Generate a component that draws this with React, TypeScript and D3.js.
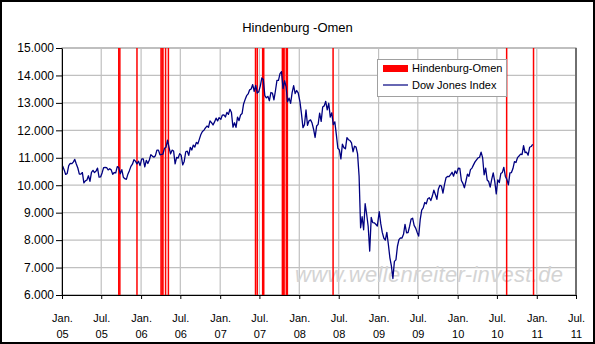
import React, { useEffect, useRef } from 'react';
import * as d3 from 'd3';

// Dow Jones weekly closes (one value per week)
const dj2005 = [10700, 10558, 10393, 10428, 10716, 10796, 10785, 10841, 10940, 10774, 10627, 10405,
    10404, 10461, 10087, 10157, 10192, 10345, 10140, 10471, 10542, 10461, 10513, 10623, 10297,
    10303, 10449, 10641, 10651, 10640, 10558, 10600, 10559, 10397, 10463, 10447, 10678, 10641, 10419,
    10569, 10292, 10238, 10215, 10402, 10531, 10686, 10766, 10931, 10877, 10778, 10875, 10717];
const dj2006 = [10959, 10959, 10667, 10907, 10793, 10919, 11115, 11061, 11021, 11076, 11279, 11280, 11109,
    11120, 11137, 11347, 11382, 11640, 11380, 11144, 11278, 11247, 10780, 11015, 10989, 11150,
    11091, 10739, 10868, 11219, 11240, 11088, 11381, 11284, 11464, 11392, 11560, 11508, 11679,
    11851, 11960, 12002, 12090, 12156, 12108, 12342, 12280, 12194, 12307, 12445, 12343, 12463];
const dj2007 = [12398, 12556, 12565, 12487, 12653, 12580, 12767, 12647, 12114, 12276, 12110, 12481, 12354,
    12560, 12612, 12961, 13120, 13264, 13327, 13476, 13507, 13668, 13424, 13639, 13360, 13408,
    13611, 13907, 13851, 13265, 13182, 13239, 13079, 13378, 13358, 13113, 13442, 13820, 13820,
    14066, 14140, 13522, 13806, 13595, 13042, 13176, 12981, 13372, 13625, 13339, 13450, 13365];
const dj2008 = [13044, 12606, 12099, 12207, 12743, 12182, 12348, 12381, 12266, 12040, 11740, 12156, 12216,
    12626, 12325, 12849, 12891, 13058, 12745, 12986, 12480, 12638, 12209, 12307, 11843, 11347,
    11288, 10962, 11497, 11370, 11326, 11734, 11659, 11628, 11544, 11220, 11422, 11388, 11143,
    10325, 8451, 8852, 8378, 9325, 8943, 8497, 7600, 8829, 8635, 8629, 8579, 8515];
const dj2009 = [9034, 8599, 8281, 8077, 8000, 8280, 7850, 7366, 7062, 6600, 7224, 7279, 7776,
    8017, 8083, 8076, 8212, 8575, 8268, 8277, 8500, 8764, 8799, 8539, 8438,
    8281, 8147, 8743, 9093, 9172, 9370, 9321, 9505, 9544, 9441, 9605, 9820, 9665,
    9487, 9864, 9995, 9972, 9712, 10023, 10270, 10318, 10310, 10388, 10471, 10329, 10520, 10428];
const dj2010 = [10618, 10609, 10173, 10067, 9908, 10144, 10402, 10325, 10567, 10624, 10742, 10850,
    10927, 10997, 11019, 11204, 11008, 10380, 10620, 10193, 10136, 9931, 10211, 10450, 10143,
    9686, 10198, 10097, 10424, 10466, 10653, 10320, 10213, 10010, 10447, 10462, 10607, 10860,
    10829, 11006, 11062, 11133, 11118, 11444, 11192, 11204, 11092, 11382, 11410, 11491];

const djYears: [number, number[]][] = [
    [2005, dj2005], [2006, dj2006], [2007, dj2007], [2008, dj2008], [2009, dj2009], [2010, dj2010],
];

// Hindenburg-Omen signal days
const omenDates = [
    '2005-09-20', '2005-09-25', '2005-12-13',
    '2006-04-03', '2006-04-08', '2006-04-12', '2006-04-24', '2006-05-07',
    '2007-06-13', '2007-06-21', '2007-07-16', '2007-07-21',
    '2007-10-15', '2007-10-19', '2007-10-23', '2007-11-02', '2007-11-07',
    '2008-06-05', '2010-08-15', '2010-12-17',
];

const yTicks = [6000, 7000, 8000, 9000, 10000, 11000, 12000, 13000, 14000, 15000];
const monthNames = ['Jan.', 'Jul.'];

const font = '"Liberation Sans", Arial, sans-serif';

const App = () => {
    const ref = useRef<SVGSVGElement>(null);

    useEffect(() => {
        const svg = d3.select(ref.current);
        const margin = { left: 62, right: 576, top: 48, bottom: 295 };

        const x = d3.scaleTime()
            .domain([new Date(2005, 0, 1), new Date(2011, 6, 1)])
            .range([margin.left, margin.right]);
        const y = d3.scaleLinear()
            .domain([6000, 15000])
            .range([margin.bottom, margin.top]);

        const xTicks = d3.timeMonth.every(6)!.range(new Date(2005, 0, 1), new Date(2011, 6, 2));
        const fmt = d3.formatLocale({ decimal: ',', thousands: '.', grouping: [3], currency: ['', ''] }).format(',');

        const data = djYears.flatMap(([yr, vals]) =>
            vals.map((v, i) => ({ date: d3.timeDay.offset(new Date(yr, 0, 1), 3 + 7 * i), value: v })));

        // grid
        const grid = svg.select('.grid');
        grid.selectAll('.hg').data(yTicks).join('line')
            .attr('class', 'hg')
            .attr('x1', margin.left).attr('x2', margin.right)
            .attr('y1', (d) => y(d)).attr('y2', (d) => y(d))
            .attr('stroke', '#c0c0c0').attr('stroke-width', 1.2);
        grid.selectAll('.vg').data(xTicks).join('line')
            .attr('class', 'vg')
            .attr('x1', (d) => x(d)).attr('x2', (d) => x(d))
            .attr('y1', margin.top).attr('y2', margin.bottom)
            .attr('stroke', '#c0c0c0').attr('stroke-width', 1.2);

        // omen bars
        svg.select('.omen').selectAll('line').data(omenDates).join('line')
            .attr('x1', (d) => x(d3.timeParse('%Y-%m-%d')(d)!))
            .attr('x2', (d) => x(d3.timeParse('%Y-%m-%d')(d)!))
            .attr('y1', y(15000)).attr('y2', y(6000))
            .attr('stroke', '#ff0000').attr('stroke-width', 1.5);

        // dow jones line
        const line = d3.line<{ date: Date; value: number }>()
            .x((d) => x(d.date))
            .y((d) => y(d.value));
        svg.select('.dj').selectAll('path').data([data]).join('path')
            .attr('d', line)
            .attr('fill', 'none')
            .attr('stroke', '#000080')
            .attr('stroke-width', 1.3)
            .attr('stroke-linejoin', 'round');

        // y axis
        const yAxis = svg.select('.y-axis')
            .attr('transform', `translate(${margin.left},0)`)
            .call(d3.axisLeft(y).tickValues(yTicks).tickFormat((d) => fmt(d as number)).tickSize(6).tickSizeOuter(0) as any);
        yAxis.select('.domain').attr('stroke', '#000');
        yAxis.selectAll('text')
            .attr('font-family', font).attr('font-size', 12).attr('fill', '#000')
            .attr('x', -8);

        // x axis
        const xAxis = svg.select('.x-axis')
            .attr('transform', `translate(0,${margin.bottom})`)
            .call(d3.axisBottom(x).tickValues(xTicks).tickFormat(() => '').tickSize(4).tickSizeOuter(0) as any);
        xAxis.select('.domain').attr('stroke', '#000');
        xAxis.selectAll('.tick').each(function (d: any) {
            const t = d3.select(this).select('text');
            t.attr('font-family', font).attr('font-size', 11).attr('fill', '#000').attr('y', 0).attr('dy', null);
            t.selectAll('tspan').data([monthNames[d.getMonth() === 0 ? 0 : 1], d3.timeFormat('%y')(d)]).join('tspan')
                .attr('x', 0)
                .attr('y', (_, i) => (i === 0 ? 27 : 43))
                .text((s) => s);
        });
    }, []);

    return (
        <svg ref={ref} width={595} height={344}
            style={{ position: 'absolute', left: 0, top: 0, background: '#fff' }}>
            <rect x={1} y={1} width={593} height={342} fill="#fff" stroke="#000" strokeWidth={2} />
            <text x={297.5} y={32} textAnchor="middle" fontFamily={font} fontSize={13}>Hindenburg -Omen</text>
            <rect x={62} y={48} width={514} height={247} fill="#fff" stroke="#808080" />
            <g className="grid" />
            <text x={295} y={282} fontFamily={font} fontSize={22} fontStyle="italic" fill="#d4d4d4"
                textLength={268} lengthAdjust="spacing">www.wellenreiter-invest.de</text>
            <g className="omen" />
            <g className="dj" />
            <line x1={576} x2={576} y1={48} y2={295} stroke="#202020" />
            <g className="y-axis" />
            <g className="x-axis" />
            <g className="legend" fontFamily={font} fontSize={11}>
                <rect x={377.5} y={59.5} width={129} height={37} fill="#fff" stroke="#a0a0a0" />
                <rect x={383} y={65} width={25} height={7} fill="#ff0000" />
                <text x={412} y={72}>Hindenburg-Omen</text>
                <line x1={383} x2={408} y1={85} y2={85} stroke="#000080" strokeWidth={1.2} />
                <text x={412} y={89}>Dow Jones Index</text>
            </g>
        </svg>
    );
};

export default App;
